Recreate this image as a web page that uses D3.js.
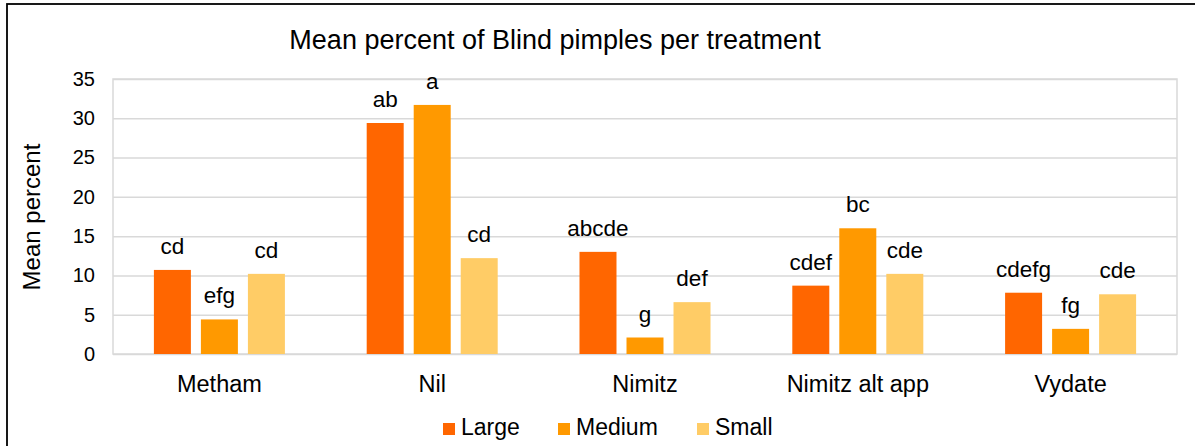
<!DOCTYPE html>
<html>
<head>
<meta charset="utf-8">
<script src="https://cdn.jsdelivr.net/npm/d3@7"></script>
<style>
	body { margin: 0; background: #fff; }
	text { font-family: "Liberation Sans", Arial, sans-serif; fill: #000; }
</style>
</head>
<body>
<div id="chart"></div>
<script>
chart_width = 1195;
chart_height = 446;

// data
categories = ['Metham', 'Nil', 'Nimitz', 'Nimitz alt app', 'Vydate'];
series = ['Large', 'Medium', 'Small'];
large_vals = [10.7, 29.4, 13.0, 8.7, 7.8];
medium_vals = [4.4, 31.7, 2.1, 16.0, 3.2];
small_vals = [10.2, 12.2, 6.6, 10.2, 7.6];
large_labels = ['cd', 'ab', 'abcde', 'cdef', 'cdefg'];
medium_labels = ['efg', 'a', 'g', 'bc', 'fg'];
small_labels = ['cd', 'cd', 'def', 'cde', 'cde'];
y_ticks = [0, 5, 10, 15, 20, 25, 30, 35];

series_colors = d3.scaleOrdinal()
	.domain(series)
	.range(['#FF6600', '#FF9900', '#FFCC66']);

plot = { left: 113, right: 1177, top: 79, bottom: 354 };

rows = [];
categories.forEach(function(c, i) {
	rows.push({ cat: c, key: 'Large', val: large_vals[i], lab: large_labels[i] });
	rows.push({ cat: c, key: 'Medium', val: medium_vals[i], lab: medium_labels[i] });
	rows.push({ cat: c, key: 'Small', val: small_vals[i], lab: small_labels[i] });
});

x0 = d3.scaleBand()
	.domain(categories)
	.range([plot.left, plot.right]);

x1 = d3.scaleBand()
	.domain(series)
	.range([0, x0.bandwidth()])
	.paddingInner(0.213)
	.paddingOuter(0.87);

y = d3.scaleLinear()
	.domain([0, 35])
	.range([plot.bottom, plot.top]);

svg = d3.select('#chart')
	.append('svg')
	.attr('width', chart_width)
	.attr('height', chart_height);

svg.append('rect')
	.attr('width', chart_width)
	.attr('height', chart_height)
	.attr('fill', '#fff');

// outer frame
svg.append('rect')
	.attr('x', 7)
	.attr('y', 4)
	.attr('width', 1220)
	.attr('height', 470)
	.attr('fill', 'none')
	.attr('stroke', '#000')
	.attr('stroke-width', 1.8);

// gridlines
svg.append('g')
	.attr('transform', 'translate(' + plot.left + ',0)')
	.call(d3.axisLeft(y).tickValues(y_ticks).tickSize(-(plot.right - plot.left)).tickFormat(''))
	.call(g => g.select('.domain').remove())
	.selectAll('line')
	.attr('stroke', '#d9d9d9')
	.attr('stroke-width', 1.5);

// plot area sides
svg.append('rect')
	.attr('x', plot.left)
	.attr('y', plot.top)
	.attr('width', plot.right - plot.left)
	.attr('height', plot.bottom - plot.top)
	.attr('fill', 'none')
	.attr('stroke', '#d9d9d9')
	.attr('stroke-width', 1.5);

// y tick labels
y_axis = svg.append('g')
	.attr('transform', 'translate(' + plot.left + ',0)')
	.call(d3.axisLeft(y).tickValues(y_ticks).tickSize(0).tickPadding(18));
y_axis.select('.domain').remove();
y_axis.selectAll('text')
	.style('font-family', '"Liberation Sans", Arial, sans-serif')
	.style('font-size', '20px')
	.attr('fill', '#000');

// x labels
x_axis = svg.append('g')
	.attr('transform', 'translate(0,' + plot.bottom + ')')
	.call(d3.axisBottom(x0).tickSize(0).tickPadding(21));
x_axis.select('.domain').remove();
x_axis.selectAll('text')
	.style('font-family', '"Liberation Sans", Arial, sans-serif')
	.style('font-size', '23.5px')
	.attr('fill', '#000');

// bars
svg.selectAll('rect.bar')
	.data(rows)
	.enter()
	.append('rect')
	.attr('class', 'bar')
	.attr('x', d => x0(d.cat) + x1(d.key))
	.attr('y', d => y(d.val))
	.attr('width', x1.bandwidth())
	.attr('height', d => y(0) - y(d.val))
	.attr('fill', d => series_colors(d.key));

// letter labels
svg.selectAll('text.lab')
	.data(rows)
	.enter()
	.append('text')
	.attr('class', 'lab')
	.attr('x', d => x0(d.cat) + x1(d.key) + x1.bandwidth() / 2)
	.attr('y', d => y(d.val) - 16)
	.attr('text-anchor', 'middle')
	.style('font-size', '22.5px')
	.text(d => d.lab);

// title
svg.append('text')
	.attr('x', 555)
	.attr('y', 49)
	.attr('text-anchor', 'middle')
	.style('font-size', '27px')
	.text('Mean percent of Blind pimples per treatment');

// y title
svg.append('text')
	.attr('transform', 'translate(40,217) rotate(-90)')
	.attr('text-anchor', 'middle')
	.style('font-size', '24px')
	.text('Mean percent');

// legend
legend_x = [443, 558, 697];
legend = svg.selectAll('g.leg')
	.data(series)
	.enter()
	.append('g')
	.attr('class', 'leg')
	.attr('transform', (d, i) => 'translate(' + legend_x[i] + ',423)');
legend.append('rect')
	.attr('width', 12)
	.attr('height', 12)
	.attr('fill', d => series_colors(d));
legend.append('text')
	.attr('x', 18)
	.attr('y', 12)
	.style('font-size', '23px')
	.text(d => d);
</script>
</body>
</html>
